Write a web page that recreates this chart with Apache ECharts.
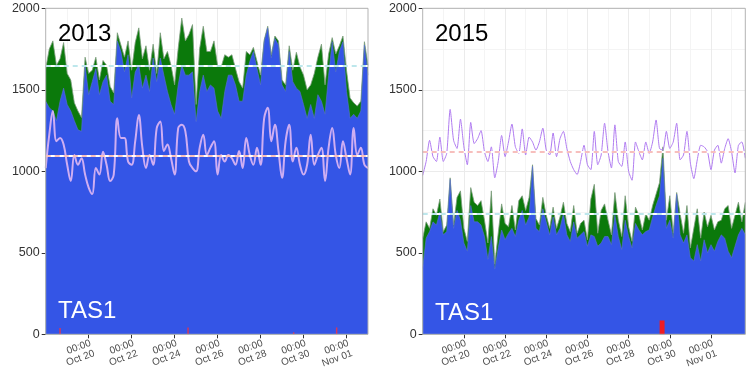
<!DOCTYPE html>
<html>
<head>
<meta charset="utf-8">
<script src="https://cdn.jsdelivr.net/npm/echarts@6/dist/echarts.min.js"></script>
<style>
  html, body { margin: 0; padding: 0; background: #fff; }
  #chart { width: 754px; height: 377px; }
</style>
</head>
<body>
<div id="chart"></div>
<script>
// 4-hourly values, first point at 00:00 Oct 18
var stepHours = 4

var blue2013 = [1430, 1390, 1370, 1310, 1430, 1510, 1410, 1370, 1310, 1255, 1245, 1650, 1470, 1550, 1630, 1470,
  1550, 1590, 1430, 1410, 1800, 1735, 1610, 1715, 1450, 1610, 1650, 1510, 1590, 1490, 1695, 1550,
  1695, 1590, 1490, 1410, 1350, 1530, 1650, 1590, 1590, 1610, 1305, 1490, 1590, 1490, 1530, 1510,
  1370, 1325, 1490, 1590, 1590, 1530, 1430, 1430, 1590, 1675, 1735, 1630, 1530, 1795, 1880, 1695,
  1815, 1775, 1530, 1490, 1735, 1550, 1510, 1490, 1410, 1325, 1410, 1325, 1470, 1430, 1350, 1590,
  1795, 1610, 1735, 1795, 1490, 1325, 1350, 1325, 1370, 1775, 1590]
var green2013 = [200, 360, 430, 340, 260, 280, 190, 190, 110, 115, 85, 50, 130, 70, 70, 90,
  130, 60, 90, 70, 50, 40, 90, 85, 170, 180, 230, 180, 180, 130, 85, 50,
  155, 100, 245, 240, 180, 225, 290, 210, 250, 290, 105, 265, 300, 245, 205, 290,
  280, 315, 225, 110, 125, 100, 120, 80, 145, 40, 25, 45, 60, 10, 10, 20,
  15, 25, 30, 40, 35, 70, 220, 150, 180, 175, 120, 275, 230, 350, 180, 130,
  25, 110, 35, 35, 130, 125, 70, 75, 60, 20, 60]
var demand2013 = [1020, 1225, 1370, 1185, 1205, 1165, 1040, 940, 1100, 1040, 1080, 980, 900, 860, 1020, 980,
  1120, 1040, 940, 980, 1325, 1205, 1205, 1060, 1040, 1185, 1345, 1145, 1020, 1100, 1040, 1265,
  1305, 1125, 1165, 1080, 980, 1265, 1285, 1245, 1060, 1020, 1000, 1145, 1225, 1100, 1145, 1185,
  980, 1100, 1060, 1100, 1080, 1040, 1125, 1020, 1205, 1100, 1040, 1145, 1040, 1325, 1390, 1185,
  1285, 1125, 960, 1185, 1285, 1060, 1145, 1040, 980, 1040, 1225, 1040, 1100, 1145, 940, 1145,
  1265, 1100, 1020, 1185, 1080, 980, 1265, 1100, 1145, 1040, 1020]

var blue2015 = [405, 590, 630, 690, 670, 750, 610, 630, 950, 650, 760, 700, 560, 510, 790, 690,
  690, 670, 600, 460, 600, 400, 530, 640, 580, 620, 650, 600, 700, 760, 670, 720,
  1030, 650, 630, 770, 690, 610, 720, 610, 650, 740, 610, 570, 690, 590, 610, 630,
  540, 610, 600, 540, 560, 600, 600, 550, 730, 600, 520, 700, 600, 530, 680, 640,
  610, 630, 640, 720, 790, 850, 1080, 650, 700, 590, 860, 610, 560, 610, 470, 450,
  550, 450, 580, 500, 550, 510, 570, 610, 590, 510, 470, 540, 610, 650, 610]
var green2015 = [185, 100, 20, 80, 60, 80, 20, 40, 10, 20, 80, 180, 90, 60, 110, 120,
  100, 150, 100, 100, 280, 30, 90, 160, 100, 40, 140, 40, 120, 90, 90, 120,
  10, 60, 40, 70, 40, 40, 60, 40, 70, 70, 70, 60, 100, 30, 70, 70,
  40, 220, 320, 80, 200, 200, 100, 60, 140, 100, 80, 150, 60, 40, 100, 90,
  30, 110, 60, 70, 70, 80, 70, 50, 150, 30, 10, 130, 60, 180, 60, 200,
  220, 140, 170, 160, 180, 130, 120, 90, 180, 280, 180, 190, 200, 40, 200]
var demand2015 = [975, 1060, 1190, 1090, 1060, 1210, 1060, 1110, 1380, 1190, 1140, 1320, 1150, 1040, 1300, 1170,
  1200, 1250, 1120, 1060, 1150, 960, 1060, 1220, 1090, 1180, 1290, 1150, 1110, 1260, 1100, 1210,
  1180, 1130, 1180, 1265, 1130, 1100, 1235, 1090, 1200, 1245, 1140, 1060, 1010, 980, 1060, 1160,
  1040, 1010, 1245, 1040, 1100, 1295, 1120, 1020, 1285, 1060, 1030, 1180, 1000, 945, 1180, 1120,
  1070, 1180, 1110, 1180, 1315, 1140, 1130, 1245, 1140, 1180, 1295, 1070, 1100, 1245, 1050, 955,
  1070, 1160, 1150, 1120, 1010, 1130, 1160, 1050, 1140, 1200, 1120, 990, 1160, 1180, 1080]

// period means (solid white + dashed lines)
var genMean2013 = 1650
var demMean2013 = 1095
var genMean2015 = 738
var demMean2015 = 1118

// small red bars near zero: hours after Oct 18 00:00 and heights
var shortHours2013 = [16, 159, 277, 325]
var shortVals2013 = [38, 42, 12, 42]
var shortHours2015 = [279]
var shortVals2015 = [85]

var tickHours = [48, 96, 144, 192, 240, 288, 336]
var months = ['Jan', 'Feb', 'Mar', 'Apr', 'May', 'Jun', 'Jul', 'Aug', 'Sep', 'Oct', 'Nov', 'Dec']

var chart = echarts.init(document.getElementById('chart'))
var font = 'Liberation Sans, Arial, sans-serif'

function xy(arr) {
  return arr.map(function (v, i) { return [i * stepHours, v] })
}
// blue + green, drawn as the back area so blue sits on top of it
function totals(blue, green) {
  return blue.map(function (v, i) { return [i * stepHours, v + green[i]] })
}
function pairs(hours, vals) {
  return hours.map(function (h, i) { return [h, vals[i]] })
}
function timeLabel(h) {
  var d = new Date(Date.UTC(2013, 9, 18) + h * 3600 * 1000)
  var day = d.getUTCDate()
  return '00:00\n' + months[d.getUTCMonth()] + ' ' + (day < 10 ? '0' + day : day)
}

function xAxisFor(idx, max) {
  return {
    type: 'value', gridIndex: idx, min: 0, max: max, interval: 48,
    axisLine: { show: false },
    axisTick: { show: true, customValues: tickHours, length: 4, lineStyle: { color: '#333' } },
    axisLabel: {
      customValues: tickHours, rotate: 20, margin: 15, fontSize: 10, lineHeight: 11,
      color: '#4d4d4d', fontFamily: font, formatter: timeLabel, padding: [0, -4, 0, 0]
    },
    splitLine: { show: true, lineStyle: { color: '#ebebeb', width: 1 } },
    minorTick: { show: false, splitNumber: 2 },
    minorSplitLine: { show: true, lineStyle: { color: '#f4f4f4', width: 1 } }
  }
}
function yAxisFor(idx) {
  return {
    type: 'value', gridIndex: idx, min: 0, max: 2000, interval: 500,
    axisLine: { show: false },
    axisTick: { show: true, length: 4, lineStyle: { color: '#333' } },
    axisLabel: { fontSize: 12.5, color: '#333', fontFamily: font, margin: 6,
      formatter: function (v) { return String(v) } },
    splitLine: { show: true, lineStyle: { color: '#ebebeb', width: 1 } },
    minorTick: { show: false, splitNumber: 2 },
    minorSplitLine: { show: true, lineStyle: { color: '#f4f4f4', width: 1 } }
  }
}
function meanLines(gen, dem) {
  return {
    silent: true, symbol: 'none', label: { show: false }, animation: false,
    data: [
      { yAxis: gen, lineStyle: { color: '#ffffff', width: 2, type: 'solid' } },
      { yAxis: gen, lineStyle: { color: '#a8dfe6', width: 1.5, type: [5, 4] } },
      { yAxis: dem, lineStyle: { color: '#ffffff', width: 2, type: 'solid' } },
      { yAxis: dem, lineStyle: { color: '#f5aaa8', width: 1.5, type: [5, 4] } }
    ]
  }
}
function panelSeries(idx, blue, green, demand, gen, dem, sh, sv, barW, lineColor, lineW, smooth) {
  return [
    {
      type: 'line', xAxisIndex: idx, yAxisIndex: idx, data: totals(blue, green),
      symbol: 'none', lineStyle: { color: '#7c9c7c', width: 0.8 },
      areaStyle: { color: '#0b790b', opacity: 1 }
    },
    {
      type: 'line', xAxisIndex: idx, yAxisIndex: idx, data: xy(blue),
      symbol: 'none', lineStyle: { color: '#5a6fd6', width: 0.6 },
      areaStyle: { color: '#3455e6', opacity: 1 }
    },
    {
      type: 'bar', xAxisIndex: idx, yAxisIndex: idx, data: pairs(sh, sv), barWidth: barW,
      z: 10, itemStyle: { color: idx === 0 ? '#d2385e' : '#ee1c24' }
    },
    {
      type: 'line', xAxisIndex: idx, yAxisIndex: idx, data: xy(demand), symbol: 'none', smooth: smooth,
      lineStyle: { color: lineColor, width: lineW }, markLine: meanLines(gen, dem)
    }
  ]
}

var option = {
  animation: false,
  grid: [
    { left: 45.7, top: 8.3, width: 322.3, height: 326 },
    { left: 422.7, top: 8.3, width: 322.6, height: 326 }
  ],
  xAxis: [xAxisFor(0, 360), xAxisFor(1, 376)],
  yAxis: [yAxisFor(0), yAxisFor(1)],
  series: panelSeries(0, blue2013, green2013, demand2013, genMean2013, demMean2013,
      shortHours2013, shortVals2013, 1.5, '#cfaef2', 2, 0.4)
    .concat(panelSeries(1, blue2015, green2015, demand2015, genMean2015, demMean2015,
      shortHours2015, shortVals2015, 5, '#b07cf0', 1, 0.2)),
  graphic: [
    { type: 'rect', z: 100, shape: { x: 45.7, y: 8.3, width: 322.3, height: 326 },
      style: { fill: 'none', stroke: '#b3b3b3', lineWidth: 1 } },
    { type: 'rect', z: 100, shape: { x: 422.7, y: 8.3, width: 322.6, height: 326 },
      style: { fill: 'none', stroke: '#b3b3b3', lineWidth: 1 } },
    { type: 'text', z: 100, left: 58, top: 22, style: { text: '2013', font: '24px ' + font, fill: '#000' } },
    { type: 'text', z: 100, left: 58, top: 299, style: { text: 'TAS1', font: '24px ' + font, fill: '#fff' } },
    { type: 'text', z: 100, left: 435, top: 22, style: { text: '2015', font: '24px ' + font, fill: '#000' } },
    { type: 'text', z: 100, left: 435, top: 301, style: { text: 'TAS1', font: '24px ' + font, fill: '#fff' } }
  ]
}
chart.setOption(option)
</script>
</body>
</html>
